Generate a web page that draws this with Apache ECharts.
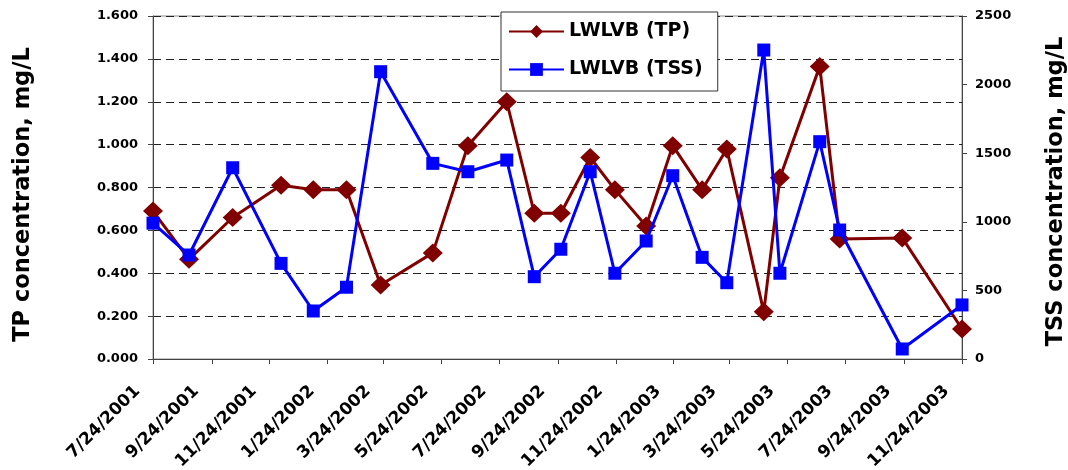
<!DOCTYPE html>
<html>
<head>
<meta charset="utf-8">
<script src="https://cdn.jsdelivr.net/npm/echarts@6/dist/echarts.min.js"></script>
<style>
html,body{margin:0;padding:0;background:#fff;}
#chart{width:1068px;height:470px;}
</style>
</head>
<body>
<div id="chart"></div>
<script>
// ---- data ----
var sampleDates = ['2001-07-24','2001-08-31','2001-10-16','2001-12-06','2002-01-09','2002-02-13','2002-03-21','2002-05-15','2002-06-21','2002-08-01','2002-08-30','2002-09-27','2002-10-28','2002-11-23','2002-12-26','2003-01-23','2003-02-23','2003-03-21','2003-04-29','2003-05-16','2003-06-27','2003-07-18','2003-09-22','2003-11-24'];
var tpValues = [0.69,0.465,0.66,0.81,0.79,0.79,0.345,0.495,0.995,1.20,0.68,0.68,0.94,0.79,0.62,0.995,0.79,0.98,0.22,0.845,1.365,0.56,0.565,0.14];
var tssValues = [990,758,1394,697,350,523,2094,1426,1365,1450,600,800,1365,625,860,1336,741,556,2252,625,1584,940,73,394];
var xTickLabels = ['7/24/2001','9/24/2001','11/24/2001','1/24/2002','3/24/2002','5/24/2002','7/24/2002','9/24/2002','11/24/2002','1/24/2003','3/24/2003','5/24/2003','7/24/2003','9/24/2003','11/24/2003'];
var seriesNames = ['LWLVB (TP)','LWLVB (TSS)'];
var yLeftName = 'TP concentration, mg/L';
var yRightName = 'TSS concentration, mg/L';

var DAY = 86400000;
function isoToTime(s){var p=s.split('-');return Date.UTC(+p[0],+p[1]-1,+p[2]);}
function mdyToTime(s){var p=s.split('/');return Date.UTC(+p[2],+p[0]-1,+p[1]);}
function fmt(v){var d=new Date(Math.round(v/DAY)*DAY);return (d.getUTCMonth()+1)+'/'+d.getUTCDate()+'/'+d.getUTCFullYear();}

var tickTimes = xTickLabels.map(mdyToTime);
var tpData = sampleDates.map(function(d,i){return [isoToTime(d), tpValues[i]];});
var tssData = sampleDates.map(function(d,i){return [isoToTime(d), tssValues[i]];});

var FONT = 'DejaVu Sans';
var chart = echarts.init(document.getElementById('chart'), null, {renderer:'canvas'});
chart.setOption({
  animation:false,
  backgroundColor:'#fff',
  grid:{left:153,right:106,top:16,bottom:111,containLabel:false,outerBoundsMode:'none',
    show:true,borderColor:'#8c8c8c',borderWidth:1,backgroundColor:'transparent'},
  legend:{
    orient:'vertical',left:501,top:12,
    data:seriesNames,
    backgroundColor:'#fff',borderColor:'#333',borderWidth:1,
    padding:[10,15,12,7],itemWidth:55,itemHeight:16,itemGap:19,
    textStyle:{fontFamily:FONT,fontWeight:'bold',fontSize:19,color:'#000'}
  },
  xAxis:{
    type:'value',
    min:tickTimes[0],max:tickTimes[tickTimes.length-1],
    axisLine:{lineStyle:{color:'#444',width:1}},
    axisTick:{show:true,length:5,lineStyle:{color:'#444'},customValues:tickTimes},
    axisLabel:{customValues:tickTimes,rotate:45,margin:14,padding:[0,22,0,0],formatter:function(v){return fmt(v);},
      fontFamily:FONT,fontWeight:'bold',fontSize:17,color:'#000',hideOverlap:false,showMinLabel:true,showMaxLabel:true},
    splitLine:{show:false}
  },
  yAxis:[{
    type:'value',min:0,max:1.6,interval:0.2,position:'left',
    name:yLeftName,nameLocation:'middle',nameGap:118,nameRotate:90,
    nameTextStyle:{fontFamily:FONT,fontWeight:'bold',fontSize:22.5,color:'#000',padding:[0,14,0,0]},
    axisLine:{show:true,lineStyle:{color:'#444',width:1}},
    axisTick:{show:true,length:5,lineStyle:{color:'#444'}},
    axisLabel:{formatter:function(v){return v.toFixed(3);},margin:15,fontFamily:FONT,fontWeight:'bold',fontSize:13,color:'#000'},
    splitLine:{show:true,lineStyle:{color:'#222',width:1,type:[8,5]}}
  },{
    type:'value',min:0,max:2500,interval:500,position:'right',
    name:yRightName,nameLocation:'middle',nameGap:83,nameRotate:90,
    nameTextStyle:{fontFamily:FONT,fontWeight:'bold',fontSize:22.5,color:'#000',padding:[0,8,0,0]},
    axisLine:{show:true,lineStyle:{color:'#444',width:1}},
    axisTick:{show:true,length:5,lineStyle:{color:'#444'}},
    axisLabel:{margin:13,formatter:function(v){return String(v);},fontFamily:FONT,fontWeight:'bold',fontSize:13,color:'#000'},
    splitLine:{show:false}
  }],
  series:[{
    name:seriesNames[0],type:'line',yAxisIndex:0,data:tpData,
    symbol:'diamond',symbolSize:[20,19],
    lineStyle:{color:'#800000',width:3},itemStyle:{color:'#800000'},
    z:2
  },{
    name:seriesNames[1],type:'line',yAxisIndex:1,data:tssData,
    symbol:'rect',symbolSize:13,
    lineStyle:{color:'#0000ff',width:3},itemStyle:{color:'#0000ff'},
    z:3
  }]
});
</script>
</body>
</html>
